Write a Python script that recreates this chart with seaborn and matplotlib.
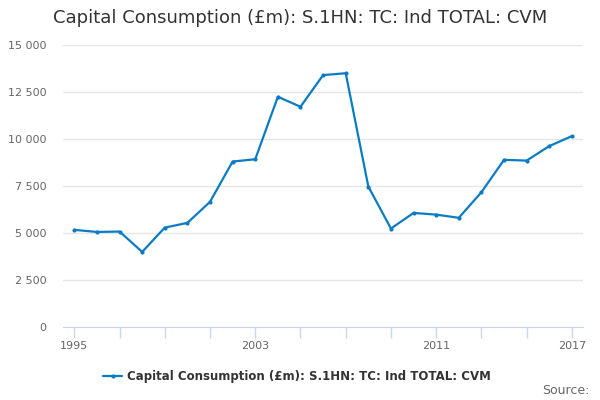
import numpy as np
import pandas as pd
import seaborn as sns
import matplotlib
matplotlib.use("Agg")
import matplotlib.pyplot as plt
from matplotlib.ticker import FuncFormatter

# datos
years = list(range(1995, 2018))
values = [5170, 5060, 5080, 4000, 5290, 5540, 6660, 8800, 8920, 12240,
          11710, 13390, 13490, 7470, 5240, 6070, 5980, 5810, 7170, 8890,
          8850, 9620, 10150]
label_years = [1995, 2003, 2011, 2017]
series_name = "Capital Consumption (£m): S.1HN: TC: Ind TOTAL: CVM"

df = pd.DataFrame({"year": years, "value": values})

sns.set_style("white")
plt.rcParams['font.family'] = ['DejaVu Sans']

fig = plt.figure(figsize=(6, 4), dpi=100)
ax = fig.add_axes([0.105, 0.182, 0.867, 0.706])

sns.lineplot(data=df, x="year", y="value", ax=ax, color="#0a7cc4", linewidth=1.6,
             marker="o", markersize=3, markeredgewidth=0, label=series_name)

ax.set_xlim(1994.5, 2017.5)
ax.set_ylim(0, 15000)
ax.set_yticks(range(0, 15001, 2500))
ax.yaxis.set_major_formatter(FuncFormatter(lambda v, p: f"{int(v):,}".replace(",", " ")))
ax.yaxis.grid(True, color="#e6e6e6", linewidth=1)
ax.set_axisbelow(True)

# marcas cada 2 años, etiquetas solo en algunos
ax.set_xticks(list(range(1995, 2018, 2)))
ax.set_xticklabels([str(y) if y in label_years else "" for y in range(1995, 2018, 2)])
ax.tick_params(axis="x", bottom=True, direction="out", length=8, width=1, color="#ccd6eb",
               labelsize=8, labelcolor="#666666", pad=2)
ax.tick_params(axis="y", left=False, length=0, labelsize=8, labelcolor="#666666", pad=12)

for s in ["top", "right", "left"]:
    ax.spines[s].set_visible(False)
ax.spines["bottom"].set_color("#ccd6eb")
ax.set_xlabel("")
ax.set_ylabel("")

fig.text(0.5, 0.955, series_name, ha="center", va="center", fontsize=13, color="#333333")

leg = ax.legend(loc="upper center", bbox_to_anchor=(0.45, -0.115), frameon=False,
                prop={"weight": "bold", "size": 8.5}, handlelength=1.6, handletextpad=0.4)
for t in leg.get_texts():
    t.set_color("#333333")

fig.text(0.983, 0.025, "Source:", ha="right", va="center", fontsize=9, color="#666666")

fig.savefig("out.png", dpi=100)
